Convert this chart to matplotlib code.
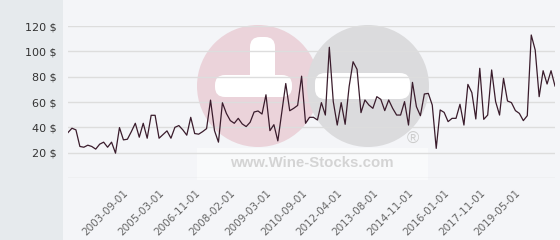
import matplotlib
matplotlib.use("Agg")
import matplotlib.pyplot as plt
from matplotlib.patches import Circle, FancyBboxPatch, Rectangle

# price series (USD), one value per observation
prices = [
    35.9, 39.3, 38.0, 24.9, 24.3, 25.9, 24.9, 22.8, 26.7, 28.3,
    24.3, 28.3, 19.6, 39.8, 30.1, 30.6, 36.6, 43.2, 32.2, 43.2,
    31.4, 49.5, 49.5, 31.4, 34.3, 37.2, 31.4, 40.0, 41.4, 38.0,
    33.8, 47.9, 35.1, 34.6, 36.6, 39.0, 61.5, 37.4, 28.3, 59.4,
    51.0, 45.3, 43.2, 47.1, 42.7, 40.6, 44.0, 52.1, 52.9, 50.5,
    65.7, 37.4, 42.1, 29.3, 52.0, 74.6, 53.1, 55.0, 57.3, 80.4,
    43.2, 47.9, 47.9, 45.8, 59.5, 49.7, 103.2, 60.3, 41.8, 59.5,
    42.4, 72.1, 91.8, 85.8, 51.6, 61.6, 57.6, 55.0, 64.2, 62.1,
    53.2, 61.6, 55.0, 49.7, 49.7, 60.3, 41.8, 75.5, 56.3, 49.2,
    66.3, 66.8, 57.6, 23.4, 53.7, 51.8, 44.5, 47.1, 47.1, 58.2,
    41.8, 73.9, 67.4, 46.6, 86.6, 46.3, 49.7, 85.3, 60.3, 49.7,
    78.7, 60.8, 59.5, 53.2, 51.0, 45.3, 49.2, 112.9, 101.0, 64.2,
    84.7, 74.2, 84.7, 72.6,
]
date_labels = [
    "2003-09-01", "2005-03-01", "2006-11-01", "2008-02-01", "2009-03-01",
    "2010-09-01", "2012-04-01", "2013-08-01", "2014-11-01", "2016-01-01",
    "2017-11-01", "2019-05-01",
]
first_label = 14
label_step = 9
y_values = [0, 20, 40, 60, 80, 100, 120]

fig = plt.figure(figsize=(5.6, 2.4), dpi=100, facecolor="#f4f5f8")

# grey strip on the left
fig.add_artist(Rectangle((0, 0), 63 / 560, 1, transform=fig.transFigure,
                         facecolor="#e6eaed", edgecolor="none", zorder=-3))


# watermark logo (pixel coords -> inches)
def px(x, y):
    return x / 100, (240 - y) / 100


def bar(x0, y0, x1, y1, r=0.1):
    x, y = px(x0, y1)
    return FancyBboxPatch((x, y), (x1 - x0) / 100, (y1 - y0) / 100,
                          boxstyle=f"round,pad=0,rounding_size={r}",
                          transform=fig.dpi_scale_trans, facecolor="white",
                          edgecolor="none", zorder=-1)


fig.add_artist(Circle(px(258, 86), 0.61, transform=fig.dpi_scale_trans,
                      facecolor="#ebd3da", edgecolor="none", zorder=-2))
fig.add_artist(Circle(px(368, 86), 0.61, transform=fig.dpi_scale_trans,
                      facecolor="#dbdbdd", edgecolor="none", zorder=-2))
fig.add_artist(bar(250, 37, 275, 97))
fig.add_artist(bar(215, 75, 292, 97))
fig.add_artist(bar(315, 73, 410, 99))
fig.add_artist(Rectangle((197 / 560, (240 - 180) / 240), 231 / 560, 32 / 240,
                         transform=fig.transFigure, facecolor="white",
                         edgecolor="none", alpha=0.5, zorder=-1))
fig.text(312 / 560, (240 - 163) / 240, "www.Wine-Stocks.com", ha="center",
         va="center", fontsize=10.8, fontweight="bold", color="#d4d4d4",
         family="Liberation Sans", zorder=-1)
fig.text(413 / 560, (240 - 139) / 240, "®", ha="center", va="center",
         fontsize=12, color="#cccccc", family="Liberation Sans", zorder=-1)

ax = fig.add_axes([68 / 560, 62 / 240, 487 / 560, 152 / 240])
ax.set_facecolor("none")
ax.plot(range(len(prices)), prices, color="#3a1c2c", linewidth=0.9, zorder=3)

ax.set_xlim(0, len(prices) - 1)
ax.set_ylim(0, 120)
ax.set_yticks(y_values, ["" if v == 0 else f"{v} $" for v in y_values])
tick_pos = [first_label + label_step * k for k in range(len(date_labels))]
ax.set_xticks(tick_pos, date_labels)
ax.yaxis.grid(True, color="#dddddd", linewidth=1)
ax.set_axisbelow(True)
ax.tick_params(axis="y", length=0, pad=8, labelsize=8, labelcolor="#333333")
ax.tick_params(axis="x", length=0, pad=7, labelsize=7.5, labelcolor="#666666")
for lab in ax.get_xticklabels():
    lab.set_rotation(45)
    lab.set_ha("right")
    lab.set_rotation_mode("anchor")
for s in ax.spines.values():
    s.set_visible(False)

fig.savefig("out.png", dpi=100, facecolor=fig.get_facecolor())
